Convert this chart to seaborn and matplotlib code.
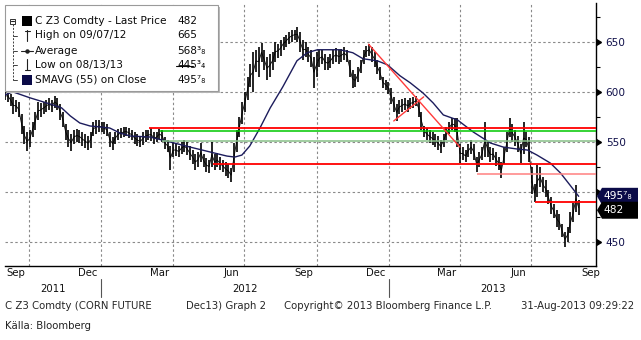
import numpy as np
import pandas as pd
import matplotlib
matplotlib.use("Agg")
import matplotlib.pyplot as plt
import matplotlib.dates as mdates
import matplotlib.transforms as mtransforms
from matplotlib.lines import Line2D
from matplotlib.patches import Rectangle, Polygon
from matplotlib.ticker import NullFormatter
from fractions import Fraction
import seaborn as sns

# ---------------------------------------------------------------------------
# C Z3 Comdty (corn, Dec-2013 contract), cents/bushel.
# Half-weekly trading ranges from Sep 2011 to 30 Aug 2013, one row per month.
# ---------------------------------------------------------------------------
bar_low = [
    592, 590, 586, 578, 580, 575, 558, 548, 541,        # 2011 Sep
    545, 555, 562, 572, 575, 578, 580, 582, 580,        # Oct
    584, 582, 572, 565, 552, 545, 541, 548, 550,        # Nov
    549, 546, 544, 542, 544, 556, 558, 560,             # Dec
    560, 558, 556, 545, 542, 548, 552, 554, 555,        # 2012 Jan
    556, 554, 552, 548, 546, 545, 547, 550, 552,        # Feb
    551, 548, 550, 553, 550, 543, 540, 522,             # Mar
    535, 536, 535, 538, 540, 537, 532, 528, 522,        # Apr
    525, 530, 525, 520, 519, 525, 522, 525, 522,        # May
    520, 516, 514, 510, 520, 540, 555, 568, 580,        # Jun
    592, 605, 600, 620, 615, 630, 622, 612,             # Jul
    615, 622, 630, 634, 636, 642, 645, 648, 650,        # Aug
    652, 650, 640, 632, 635, 630, 625, 604, 615,        # Sep
    625, 628, 622, 622, 624, 628, 630, 628, 630,        # Oct
    632, 630, 615, 604, 605, 610, 619, 628,             # Nov
    635, 636, 630, 625, 618, 612, 604, 602, 598,        # Dec
    588, 580, 571, 578, 580, 582, 580, 583, 584,        # 2013 Jan
    586, 575, 562, 555, 552, 549, 547, 545,             # Feb
    542, 539, 545, 552, 558, 562, 560, 545, 529,        # Mar
    532, 530, 535, 538, 532, 520, 525, 532, 535,        # Apr
    535, 530, 532, 526, 522, 514, 528, 540, 555,        # May
    550, 546, 540, 529, 538, 545, 530, 498,             # Jun
    490, 495, 505, 500, 495, 488, 478, 474, 465,        # Jul
    462, 455, 445.75, 450, 459, 470, 480, 477,          # Aug
]
bar_high = [
    600, 602, 598, 595, 592, 590, 578, 566, 560,        # 2011 Sep
    562, 570, 580, 590, 589, 590, 592, 594, 592,        # Oct
    596, 594, 588, 580, 568, 562, 558, 562, 563,        # Nov
    562, 560, 558, 556, 560, 570, 572, 572,             # Dec
    570, 570, 568, 560, 555, 560, 563, 564, 565,        # 2012 Jan
    565, 564, 562, 560, 558, 556, 560, 562, 562,        # Feb
    564, 560, 560, 563, 562, 555, 552, 546,             # Mar
    549, 548, 546, 550, 552, 550, 546, 542, 538,        # Apr
    540, 549, 538, 534, 532, 550, 538, 539, 535,        # May
    532, 530, 528, 524, 549, 562, 575, 590, 600,        # Jun
    615, 628, 640, 642, 645, 649, 642, 635,             # Jul
    638, 640, 650, 648, 652, 655, 657, 660, 662,        # Aug
    662, 665, 660, 652, 650, 645, 642, 635, 640,        # Sep
    642, 642, 638, 635, 638, 642, 644, 642, 643,        # Oct
    645, 642, 632, 622, 618, 625, 632, 642,             # Nov
    646, 648, 645, 640, 632, 625, 615, 612, 610,        # Dec
    604, 595, 588, 592, 593, 594, 592, 594, 595,        # 2013 Jan
    596, 592, 580, 566, 564, 562, 560, 558,             # Feb
    556, 552, 558, 565, 570, 574, 574, 574, 548,        # Mar
    545, 542, 548, 552, 548, 535, 540, 545, 570,        # Apr
    550, 545, 544, 540, 535, 530, 545, 560, 574,        # May
    568, 562, 556, 548, 570, 560, 555, 525,             # Jun
    508, 527, 525, 515, 512, 502, 495, 488, 482,        # Jul
    478, 468, 460, 465, 480, 489, 507, 492,             # Aug
]
first_day = "2011-09-01"
last_day = "2013-08-30"

# 55-day simple moving average of the close
sma_dates = [
    "2011-09-01", "2011-09-11", "2011-10-03", "2011-10-28", "2011-11-12",
    "2011-11-23", "2011-12-05", "2011-12-18", "2011-12-31", "2012-01-12",
    "2012-01-25", "2012-02-07", "2012-03-03", "2012-03-29", "2012-04-23",
    "2012-05-19", "2012-06-09", "2012-06-19", "2012-06-28", "2012-07-08",
    "2012-07-21", "2012-08-03", "2012-08-19", "2012-09-06", "2012-09-19",
    "2012-10-02", "2012-10-31", "2012-11-16", "2012-11-29", "2012-12-17",
    "2012-12-30", "2013-01-15", "2013-01-28", "2013-02-13", "2013-02-26",
    "2013-03-11", "2013-03-29", "2013-04-18", "2013-05-10", "2013-05-26",
    "2013-06-13", "2013-06-26", "2013-07-08", "2013-07-25", "2013-08-07",
    "2013-08-19", "2013-08-30",
]
sma_values = [
    597, 600, 594, 588, 584, 576, 569, 566, 565, 564,
    559, 556, 555, 550, 545, 540, 536, 535, 537, 546,
    564, 584, 605, 631, 639, 642, 642, 639, 633, 631,
    627, 616, 609, 599, 589, 577, 572, 560, 549, 545,
    543, 542, 537, 529, 519, 507, 495.875,
]

# horizontal support / resistance levels (start date, level)
level_start = ["2012-03-02", "2012-03-16", "2012-03-19",
               "2012-05-22", "2013-04-23", "2013-07-06"]
level_value = [563.75, 561.0, 551.25, 527.75, 518.0, 490.0]

# trend lines (start, end, value at start, value at end)
trend_start = ["2012-12-06", "2013-01-07"]
trend_end = ["2013-04-01", "2013-02-14"]
trend_from = [647.5, 571.0]
trend_to = [545.0, 595.0]

# legend statistics
last_price = 482
high_value, high_date = 665, "09/07/12"
avg_value = 568.375
low_value, low_date = 445.75, "08/13/13"
sma_last = sma_values[-1]

y_major = [450, 500, 550, 600, 650]
y_labels = ["450", "", "550", "600", "650"]   # 500 sits under the price tags
y_minor = [475, 525, 575, 625, 675]

# ---------------------------------------------------------------------------
SUP = str.maketrans("0123456789", "⁰¹²³⁴⁵⁶⁷⁸⁹")
SUB = str.maketrans("0123456789", "₀₁₂₃₄₅₆₇₈₉")


def price_str(v):
    whole = int(np.floor(v))
    frac = Fraction(v - whole).limit_denominator(8)
    if frac == 0:
        return f"{whole}"
    return f"{whole}{str(frac.numerator).translate(SUP)}{str(frac.denominator).translate(SUB)}"


sns.set_style("white")
plt.rcParams["font.family"] = ["DejaVu Sans"]
FS = 7.3

W, H = 641, 340
fig = plt.figure(figsize=(W / 100, H / 100), dpi=100)
fig.patch.set_facecolor("white")


def fx(px):
    return px / W


def fy(py):
    return 1 - py / H


ax = fig.add_axes([fx(5), fy(266), fx(596) - fx(5), fy(3) - fy(266)])
x_left = pd.Timestamp(first_day)
x_right = pd.Timestamp("2013-09-21")
ax.set_xlim(x_left, x_right)
ax.set_ylim(426.4, 688.6)
ax.set_facecolor("white")

grid_kw = dict(color="#8a8a8a", lw=0.8, ls=(0, (2.2, 2.2)), zorder=0)
for v in y_major:
    ax.axhline(v, **grid_kw)
for d in pd.date_range("2011-10-01", "2013-09-01", freq="QS"):
    ax.axvline(d, **grid_kw)

prices = pd.DataFrame({
    "date": pd.date_range(first_day, last_day, periods=len(bar_low)),
    "low": bar_low,
    "high": bar_high,
})
prices["mid"] = (prices["low"] + prices["high"]) / 2
ax.vlines(prices["date"], prices["low"], prices["high"], color="black",
          lw=1.2, zorder=3)
sns.lineplot(data=prices, x="date", y="mid", ax=ax, color="black", lw=0.6,
             zorder=3, legend=False)

sma = pd.DataFrame({"date": pd.to_datetime(sma_dates), "sma": sma_values})
sns.lineplot(data=sma, x="date", y="sma", ax=ax, color="#1c1c5c", lw=1.0,
             zorder=4, legend=False)

level_colors = ["#ff0000", "#00c800", "#88c088", "#ff0000", "#ff8080", "#ff0000"]
level_widths = [1.3, 1.1, 1.1, 1.3, 1.1, 1.3]
for s, v, c, w in zip(level_start, level_value, level_colors, level_widths):
    ax.hlines(v, pd.Timestamp(s), x_right, color=c, lw=w, zorder=5)

for s, e, a, b in zip(trend_start, trend_end, trend_from, trend_to):
    ax.plot([pd.Timestamp(s), pd.Timestamp(e)], [a, b], color="#ff3a3a",
            lw=1.0, zorder=5)

ax.set_xlabel("")
ax.set_ylabel("")
for side in ("top", "left"):
    ax.spines[side].set_visible(False)
for side in ("right", "bottom"):
    ax.spines[side].set_color("black")
    ax.spines[side].set_linewidth(1.0)

# x axis: monthly ticks, quarter month names centred on the month
ax.xaxis.set_major_locator(mdates.MonthLocator())
ax.xaxis.set_major_formatter(NullFormatter())
ax.tick_params(axis="x", which="major", length=4, width=0.8, color="black",
               direction="out")
label_months = pd.date_range("2011-09-01", "2013-09-01", freq="QS-MAR") + pd.Timedelta(days=14)
ax.set_xticks(label_months, minor=True)
ax.set_xticklabels([d.strftime("%b") for d in label_months], minor=True)
ax.tick_params(axis="x", which="minor", length=0, pad=1.5, labelsize=FS,
               labelcolor="#101010")

# y axis on the right with caret markers
ax.yaxis.tick_right()
ax.set_yticks(y_major)
ax.set_yticklabels(y_labels)
ax.set_yticks(y_minor, minor=True)
ax.tick_params(axis="y", which="major", length=0, pad=7, labelsize=FS + 0.3,
               labelcolor="#10104a")
ax.tick_params(axis="y", which="minor", length=3, width=0.8, color="black",
               direction="out")
ytrans = mtransforms.blended_transform_factory(ax.transAxes, ax.transData)
ax.plot([1.0] * len(y_major), y_major, ls="none", marker=9, ms=4.5,
        color="black", transform=ytrans, clip_on=False, zorder=6)

fig.canvas.draw()


def value_to_py(v):
    yd = ax.transData.transform((mdates.date2num(x_left), v))[1]
    return H - yd


def date_to_px(d):
    return ax.transData.transform((mdates.date2num(pd.Timestamp(d)), 0))[0]


def tag(value, fc):
    yc = value_to_py(value)
    pts = [(597, yc), (602, yc - 8.5), (638, yc - 8.5), (638, yc + 8.5), (602, yc + 8.5)]
    fig.add_artist(Polygon([(fx(a), fy(b)) for a, b in pts], closed=True,
                           transform=fig.transFigure, fc=fc, ec="none", zorder=10))
    fig.text(fx(604), fy(yc), price_str(value), color="white", fontsize=FS + 0.4,
             va="center", ha="left", zorder=11)


tag(sma_last, "#0b0b48")
tag(last_price, "#000000")

# year row
jan12 = date_to_px("2012-01-01")
jan13 = date_to_px("2013-01-01")
xl = date_to_px(x_left)
xr = date_to_px(x_right)
for x0, x1, yr in [(xl, jan12, "2011"), (jan12, jan13, "2012"), (jan13, xr, "2013")]:
    fig.text(fx((x0 + x1) / 2), fy(289), yr, ha="center", va="center",
             fontsize=FS, color="#101010")
for xs in (jan12, jan13):
    fig.add_artist(Line2D([fx(xs), fx(xs)], [fy(279), fy(297)], color="#555555",
                          lw=0.8, transform=fig.transFigure))

# footer
fig.text(fx(5), fy(306), "C Z3 Comdty (CORN FUTURE", fontsize=FS, va="center")
fig.text(fx(186), fy(306), "Dec13) Graph 2", fontsize=FS, va="center")
fig.text(fx(284), fy(306), "Copyright© 2013 Bloomberg Finance L.P.", fontsize=FS,
         va="center")
fig.text(fx(634), fy(306), "31-Aug-2013 09:29:22", fontsize=FS, va="center",
         ha="right")
fig.text(fx(5), fy(326), "Källa: Bloomberg", fontsize=FS, va="center",
         color="#222222")


# legend panel
def rect(l, t, r, b, **kw):
    fig.add_artist(Rectangle((fx(l), fy(b)), fx(r) - fx(l), fy(t) - fy(b),
                             transform=fig.transFigure, **kw))


def seg(x0, y0, x1, y1, **kw):
    fig.add_artist(Line2D([fx(x0), fx(x1)], [fy(y0), fy(y1)],
                          transform=fig.transFigure, **kw))


rect(7, 7, 220, 93, fc="#b8b8b8", ec="none", zorder=7)
rect(5, 5, 218, 91, fc="white", ec="#9a9a9a", lw=0.8, zorder=8)

rows_y = [21, 35.5, 50.5, 65, 80]
rows = [
    ("C Z3 Comdty - Last Price", price_str(last_price)),
    (f"High on {high_date}", price_str(high_value)),
    ("Average", price_str(avg_value)),
    (f"Low on {low_date}", price_str(low_value)),
    ("SMAVG (55) on Close", price_str(sma_last)),
]
for (label, val), ry in zip(rows, rows_y):
    fig.text(fx(35), fy(ry), label, fontsize=FS + 0.3, va="center", zorder=9,
             color="#0a0a0a")
    fig.text(fx(177), fy(ry), val, fontsize=FS + 0.3, va="center", zorder=9,
             color="#0a0a0a")

lk = dict(color="#202020", lw=0.8, zorder=9)
# tree connector
rect(10, 18.5, 15, 23.5, fc="white", ec="#303030", lw=0.7, zorder=9)
seg(11, 21, 14, 21, **lk)
seg(12.5, 24, 12.5, rows_y[-1], color="#404040", lw=0.7, ls=(0, (2, 1.5)), zorder=9)
for ry in rows_y[1:]:
    seg(12.5, ry, 17, ry, color="#404040", lw=0.7, zorder=9)
# icons
rect(22, 16, 32, 26, fc="black", ec="none", zorder=9)
seg(27, 30, 27, 41, **lk)
seg(24.5, 30.5, 29.5, 30.5, **lk)
seg(21, 50.5, 33, 50.5, **lk)
fig.add_artist(Line2D([fx(27)], [fy(50.5)], marker="o", ms=2.2, color="#202020",
                      transform=fig.transFigure, zorder=9))
seg(27, 59, 27, 70, **lk)
seg(24.5, 69.5, 29.5, 69.5, **lk)
seg(176, 65.5, 193, 65.5, color="#0a0a0a", lw=0.8, zorder=10)
rect(22, 75, 32, 85, fc="#0b0b48", ec="none", zorder=9)

fig.savefig("out.png", dpi=100, facecolor="white")
